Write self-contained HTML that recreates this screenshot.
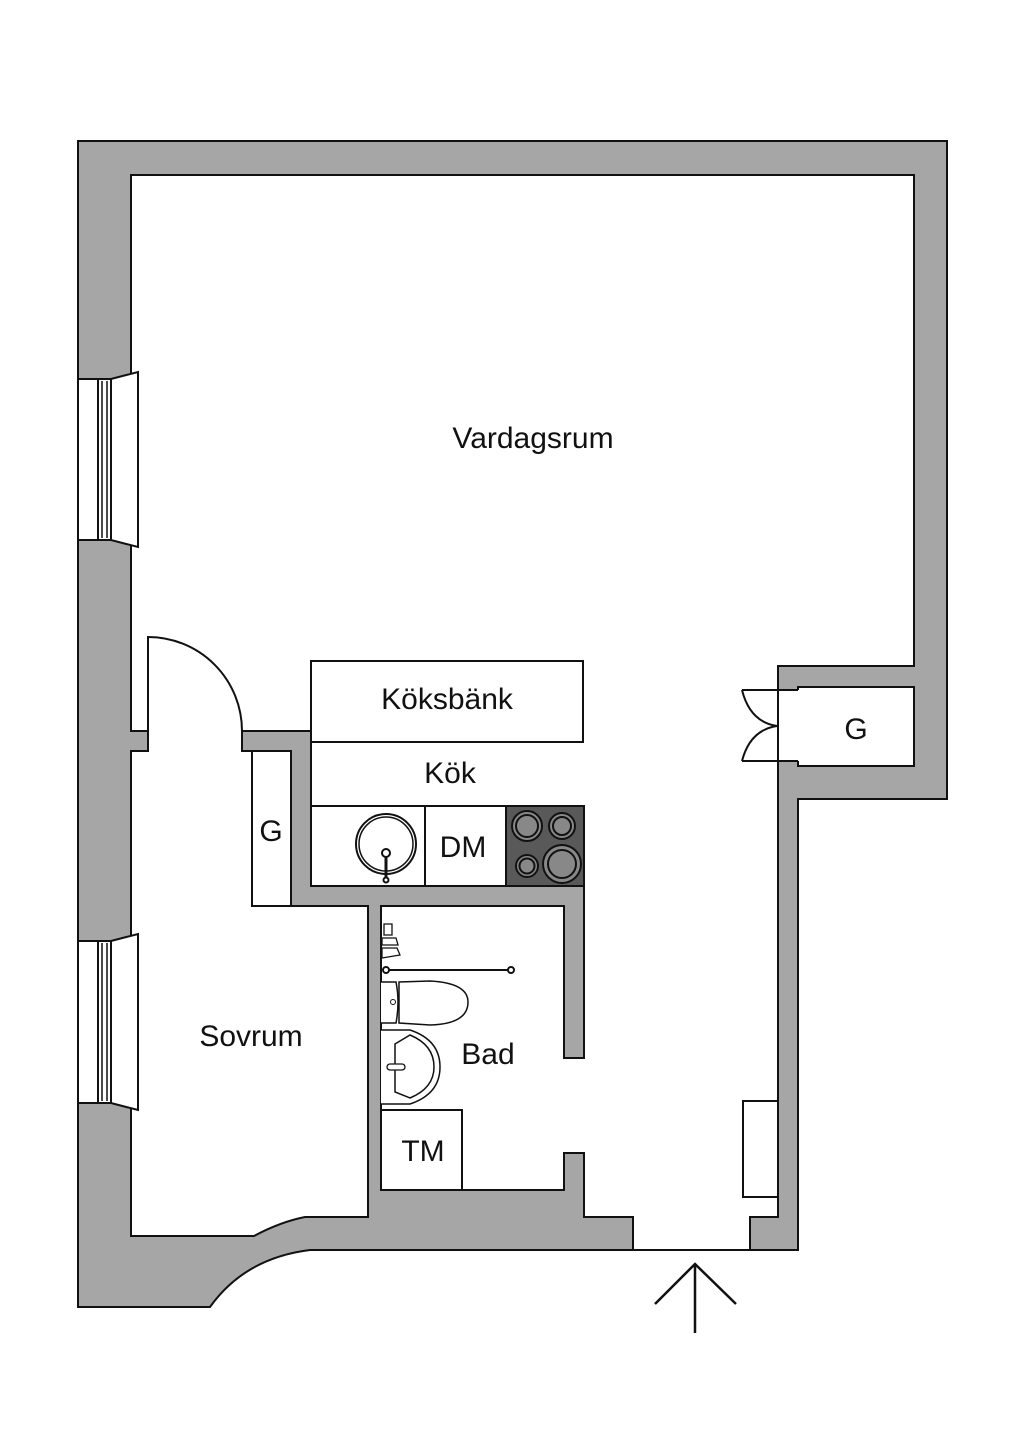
<!DOCTYPE html>
<html><head><meta charset="utf-8"><style>
html,body{margin:0;padding:0;background:#fff;}
svg{display:block;}
text{font-family:"Liberation Sans",sans-serif;fill:#111;text-anchor:middle;}
</style></head><body>
<svg width="1024" height="1448" viewBox="0 0 1024 1448" xmlns="http://www.w3.org/2000/svg">
<g stroke="#111" stroke-width="2" stroke-linejoin="miter">
<!-- outer walls -->
<path d="M78,141 L947,141 L947,799 L798,799 L798,1250 L310,1250 Q245,1258 210,1307 L78,1307 Z" fill="#a6a6a6"/>
<!-- main white area -->
<path d="M131,175 L914,175 L914,666 L778,666 L778,1217 L750,1217 L750,1250 L633,1250 L633,1217 L584,1217 L584,1153 L564,1153 L564,1190 L381,1190 L381,906 L564,906 L564,1058 L584,1058 L584,886 L311,886 L311,731 L242,731 L242,751 L252,751 L252,906 L368,906 L368,1217 L305,1217 Q280,1222 254,1236 L131,1236 L131,751 L148,751 L148,731 L131,731 Z" fill="#fff"/>
<!-- sovrum closet -->
<rect x="252" y="751" width="39" height="155" fill="#fff"/>
<!-- closet right -->
<rect x="779" y="691" width="20" height="69" fill="#fff" stroke="none"/>
<path d="M798,690 L798,687 L914,687 L914,766 L798,766 L798,761" fill="#fff"/>
<path d="M742,690 L798,690 M742,761 L798,761" fill="none"/>
<path d="M742,690 Q750,722 777,726 Q750,730 742,761" fill="none"/>
<!-- sovrum door -->
<path d="M148,731 L148,637 A94,94 0 0 1 242,731" fill="none"/>
<!-- windows -->
<path d="M78,379 L111,379 L138,372 L138,547 L111,540 L78,540 Z" fill="#fff"/>
<rect x="98" y="379" width="13" height="161" fill="#fff"/>
<path d="M102,381 L102,538 M107,381 L107,538" fill="none" stroke-width="1.5"/>
<path d="M78,941 L111,941 L138,934 L138,1110 L111,1103 L78,1103 Z" fill="#fff"/>
<rect x="98" y="941" width="13" height="162" fill="#fff"/>
<path d="M102,943 L102,1101 M107,943 L107,1101" fill="none" stroke-width="1.5"/>
<!-- kitchen -->
<rect x="311" y="661" width="272" height="81" fill="#fff"/>
<rect x="311" y="806" width="273" height="80" fill="#fff"/>
<line x1="425" y1="806" x2="425" y2="886"/>
<rect x="506" y="806" width="78" height="80" fill="#595959"/>
<g fill="#888">
<circle cx="527" cy="826" r="15"/><circle cx="527" cy="826" r="11" fill="none"/>
<circle cx="562" cy="826" r="13"/><circle cx="562" cy="826" r="9" fill="none"/>
<circle cx="527" cy="866" r="11"/><circle cx="527" cy="866" r="7.5" fill="none"/>
<circle cx="562" cy="864" r="19"/><circle cx="562" cy="864" r="14" fill="none"/>
</g>
<circle cx="386" cy="844" r="30" fill="none"/>
<circle cx="386" cy="844" r="27" fill="none" stroke-width="1.5"/>
<line x1="386" y1="853" x2="386" y2="880" stroke-width="3"/>
<circle cx="386" cy="853" r="4" fill="#fff"/>
<circle cx="386" cy="880" r="2.5" fill="#fff"/>
<!-- bath -->
<line x1="386" y1="970" x2="511" y2="970"/>
<circle cx="386" cy="970" r="3" fill="#fff"/><circle cx="511" cy="970" r="3" fill="#fff"/>
<path d="M384,924 L392,924 L392,935 L384,935 Z M382,938 L396,938 L398,945 L382,945 Z M382,948 L397,948 L400,955 L382,958 Z" fill="#fff" stroke-width="1.3"/>
<path d="M381,982 L396,982 Q400,1002 396,1023 L381,1023" fill="#fff" stroke-width="1.5"/>
<path d="M399,982 L430,981 Q468,983 468,1002 Q468,1024 430,1025 L399,1023 Z" fill="#fff" stroke-width="1.5"/>
<circle cx="393" cy="1002" r="2.5" fill="none" stroke-width="1"/>
<path d="M381,1030 L410,1030 Q440,1040 440,1067 Q440,1094 410,1104 L381,1104" fill="#fff" stroke-width="1.5"/>
<path d="M395,1044 L410,1035 Q434,1045 434,1067 Q434,1088 410,1098 L395,1092 Z" fill="#fff" stroke-width="1.5"/>
<rect x="387" y="1064" width="18" height="6" rx="3" fill="#fff" stroke-width="1.3"/>
<rect x="381" y="1110" width="81" height="80" fill="#fff"/>
<!-- radiator -->
<rect x="743" y="1101" width="35" height="96" fill="#fff"/>
<!-- entrance arrow -->
<path d="M695,1264 L695,1333 M655,1304 L695,1264 L736,1304" fill="none" stroke-width="2.5"/>
</g>
<text x="533" y="448" font-size="30">Vardagsrum</text>
<text x="447" y="709" font-size="30">Köksbänk</text>
<text x="450" y="783" font-size="30">Kök</text>
<text x="463" y="857" font-size="30">DM</text>
<text x="271" y="841" font-size="30">G</text>
<text x="856" y="739" font-size="30">G</text>
<text x="251" y="1046" font-size="30">Sovrum</text>
<text x="488" y="1064" font-size="30">Bad</text>
<text x="423" y="1161" font-size="30">TM</text>
</svg>
</body></html>
